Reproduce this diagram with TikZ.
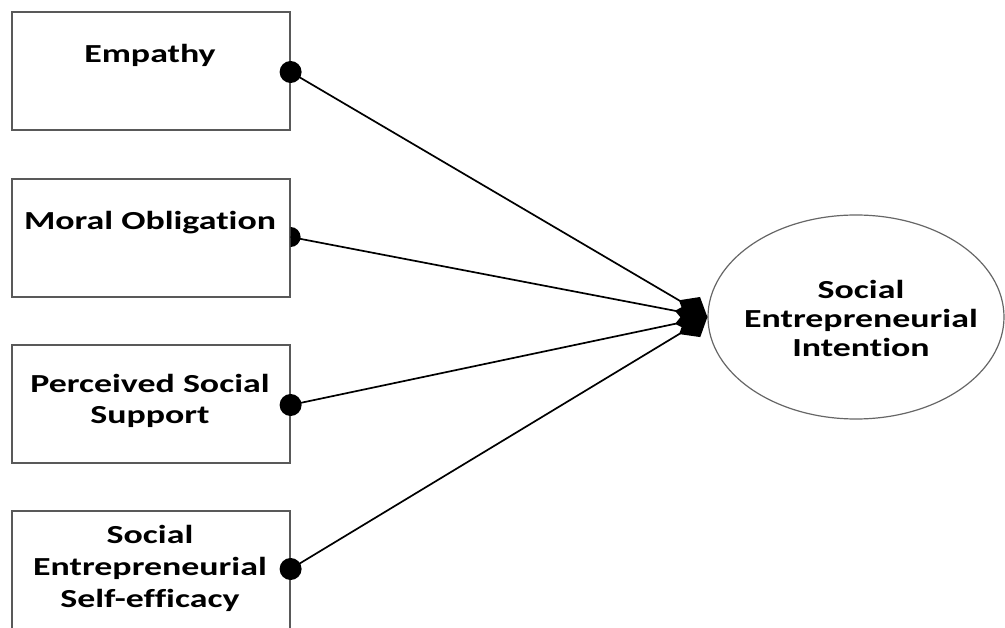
\documentclass[tikz,border=0pt]{standalone}
\usepackage{fontspec}
\setmainfont{Carlito}[FakeStretch=1.38,Ligatures=NoCommon]
\usetikzlibrary{arrows.meta,shapes.geometric}
\begin{document}
\begin{tikzpicture}[x=1pt,y=-1pt,
  factor/.style={draw=black!65,line width=1.6pt,fill=white,minimum width=278pt,minimum height=118pt,inner sep=0pt,anchor=north west},
  outcome/.style={draw=black!60,line width=1.2pt,ellipse,minimum width=296pt,minimum height=204pt,inner sep=0pt},
  lbl/.style={font=\bfseries\fontsize{26}{#1}\selectfont,align=center,anchor=base,inner sep=0pt},
  lbl/.default=31,
  link/.style={line width=1.7pt,-{Diamond[length=33pt,width=27pt]}},
  dot/.style={fill=black}]
\useasboundingbox (0,0) rectangle (1005,628);
\begin{scope}
\clip (0,0) rectangle (1005,628);
% predictor boxes
\node[factor] (emp) at (11,11) {};
\node[factor] (mor) at (11,178) {};
\node[factor] (pss) at (11,344) {};
\node[factor] (ses) at (11,510) {};
% outcome
\node[outcome] (sei) at (856,317) {};
% labels (base = baseline of the last line)
\node[lbl] (empt) at (150,63) {Empathy};
\node[lbl] (mort) at (150,230) {Moral Obligation};
\node[lbl] (psst) at (150,424) {Perceived Social\\Support};
\node[lbl=32] (sest) at (150,607) {Social\\Entrepreneurial\\Self-efficacy};
\node[lbl=29] (seit) at (861,357) {Social\\Entrepreneurial\\Intention};
% anchor points of the paths on the box edges
\coordinate (e1) at ([yshift=-61pt]emp.north east);
\coordinate (e2) at ([yshift=-59pt]mor.north east);
\coordinate (e3) at ([yshift=-61pt]pss.north east);
\coordinate (e4) at ([yshift=-59pt]ses.north east);
% links
\draw[link] (e1) -- (sei.west);
\draw[link] (e2) -- (sei.west);
\draw[link] (e3) -- (sei.west);
\draw[link] (e4) -- (sei.west);
% end dots
\fill[dot] (e1) circle (11pt);
\fill[dot] ([yshift=10pt]e2) arc[start angle=90,end angle=-90,radius=10pt] -- cycle;
\fill[dot] (e3) circle (11pt);
\fill[dot] (e4) circle (11pt);
\end{scope}
\end{tikzpicture}
\end{document}
